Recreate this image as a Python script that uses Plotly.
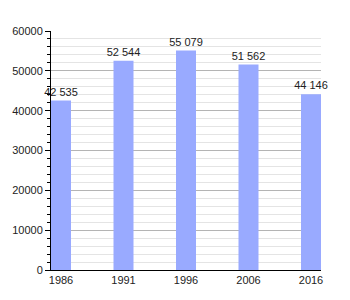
import plotly.graph_objects as go

years = ["1986", "1991", "1996", "2006", "2016"]
population = [42535, 52544, 55079, 51562, 44146]
labels = ["42 535", "52 544", "55 079", "51 562", "44 146"]
y_ticks = [0, 10000, 20000, 30000, 40000, 50000, 60000]

xpos = list(range(len(years)))

fig = go.Figure()
fig.add_trace(go.Bar(
    x=xpos, y=population, text=labels, textposition="outside",
    constraintext="none",
    marker=dict(color="#99AAFF", line=dict(width=0)),
    width=0.32, cliponaxis=False,
    textfont=dict(family="Liberation Sans, Arial", size=11, color="#222"),
))
fig.update_layout(
    width=350, height=300,
    margin=dict(l=51, r=29, t=31, b=30),
    paper_bgcolor="white", plot_bgcolor="white",
    showlegend=False,
    font=dict(family="Liberation Sans, Arial", size=11, color="#222"),
    xaxis=dict(range=[-0.16, 4.16], tickvals=xpos, ticktext=years,
               showgrid=False, showline=True, linecolor="black", linewidth=1,
               ticks="", zeroline=False, fixedrange=True),
    yaxis=dict(range=[0, 60000], tickvals=y_ticks, showgrid=True,
               gridcolor="#b4b4b4", gridwidth=1,
               showline=True, linecolor="black", linewidth=1,
               ticks="outside", ticklen=5, tickcolor="black",
               zeroline=False,
               minor=dict(dtick=2000, showgrid=True, gridcolor="#e4e4e4",
                          ticks="outside", ticklen=3, tickcolor="black"),
               tickformat="d"),
)
fig.write_html("out.html")
